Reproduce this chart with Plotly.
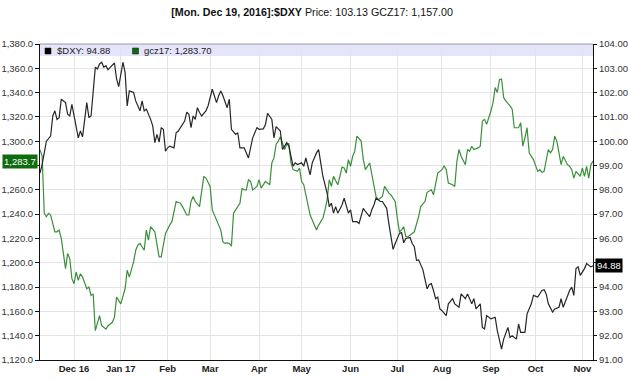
import pandas as pd
import plotly.graph_objects as go

# ---------------- data ----------------
START_DATE = "2016-11-09"      # first trading weekday shown
N_WEEKDAYS = 261               # weekdays shown (through 2017-11-08)

# $DXY (right axis) : weekday offset from START_DATE, value
DXY_DAYS = [0, 1, 3, 5, 6, 7, 8, 9, 10, 12, 13, 14, 15, 16, 17, 18, 19, 20, 22, 23, 24, 26, 27, 28, 29, 30,
            31, 32, 33, 35, 36, 37, 39, 40, 41, 42, 44, 45, 47, 48, 49, 50, 52, 53, 54, 55, 56, 57, 58, 59,
            60, 61, 63, 64, 65, 67, 68, 69, 70, 71, 72, 73, 74, 75, 76, 78, 79, 81, 83, 84, 85, 86, 88, 89,
            90, 92, 93, 94, 96, 98, 99, 100, 102, 103, 105, 106, 107, 109, 110, 111, 113, 114, 116, 117,
            119, 120, 121, 123, 124, 125, 127, 128, 130, 131, 132, 133, 135, 136, 137, 138, 139, 140, 142,
            143, 145, 146, 147, 149, 150, 152, 153, 155, 156, 157, 158, 160, 161, 163, 164, 165, 166, 167,
            169, 170, 171, 172, 174, 175, 176, 177, 178, 180, 181, 182, 183, 184, 185, 186, 187, 188, 189,
            191, 192, 194, 195, 197, 198, 200, 201, 202, 203, 204, 205, 207, 208, 209, 210, 212, 214, 215,
            216, 217, 218, 220, 221, 222, 224, 225, 226, 228, 229, 231, 232, 234, 236, 237, 238, 239, 241,
            242, 244, 245, 246, 248, 249, 250, 251, 252, 253, 254, 255, 256, 257, 259, 260]
DXY_VALUES = [98.69, 99.04, 100.0, 100.21, 101.04, 101.25, 100.9, 100.97, 101.73, 101.59, 101.11, 101.04,
              101.52, 101.04, 100.49, 100.14, 100.42, 100.18, 101.59, 100.97, 101.04, 103.04, 102.97, 103.18,
              103.25, 103.04, 103.11, 102.94, 103.04, 103.22, 102.56, 102.25, 103.25, 102.83, 101.45, 102.07,
              102.01, 101.66, 101.25, 101.66, 101.25, 101.32, 100.9, 100.63, 99.94, 100.28, 99.96, 100.56,
              100.49, 99.59, 99.73, 99.80, 99.73, 100.35, 100.42, 100.69, 100.83, 101.2, 101.11, 100.56,
              101.04, 100.9, 101.38, 101.18, 101.04, 101.25, 101.45, 102.14, 101.59, 101.87, 102.07, 101.87,
              101.38, 101.73, 100.49, 100.28, 100.35, 99.73, 99.73, 99.31, 99.8, 100.14, 100.56, 100.49,
              100.51, 100.69, 101.15, 100.9, 100.14, 100.6, 100.42, 99.66, 99.94, 99.8, 98.97, 99.11, 99.04,
              99.11, 98.97, 99.31, 98.62, 99.11, 99.52, 99.66, 99.11, 98.56, 97.87, 97.31, 97.45, 97.04,
              97.31, 97.04, 97.38, 97.66, 97.04, 97.18, 96.69, 96.69, 96.62, 97.24, 97.11, 96.9, 97.18,
              97.38, 97.66, 97.52, 97.52, 97.24, 96.62, 96.07, 95.55, 95.79, 96.21, 96.24, 95.82, 96.0,
              96.04, 95.79, 95.66, 95.1, 95.12, 94.72, 94.3, 93.93, 94.1, 94.14, 93.86, 93.52, 93.59, 93.10,
              93.03, 92.83, 93.31, 93.52, 93.31, 93.17, 93.72, 93.52, 93.72, 93.52, 93.31, 93.52, 93.10,
              93.31, 92.34, 92.28, 92.83, 92.69, 92.76, 92.21, 91.86, 91.45, 91.86, 92.34, 91.93, 92.0,
              91.86, 92.48, 92.14, 92.14, 92.90, 93.31, 93.66, 93.59, 93.86, 93.89, 93.72, 93.31, 92.97,
              93.10, 93.17, 93.52, 93.17, 93.66, 93.86, 94.0, 93.66, 94.76, 94.83, 94.48, 94.62, 94.76,
              94.97, 94.83, 94.88]

# gcz17 (left axis)
GC_DAYS = [0, 1, 2, 3, 4, 5, 6, 7, 8, 9, 10, 11, 12, 13, 14, 15, 16, 17, 18, 19, 20, 22, 23, 24, 25, 26, 27,
           28, 29, 31, 32, 34, 35, 36, 38, 40, 41, 42, 44, 45, 46, 47, 49, 50, 51, 52, 54, 55, 56, 57, 58,
           59, 61, 62, 64, 66, 67, 69, 70, 71, 72, 73, 75, 76, 77, 78, 80, 81, 83, 85, 86, 87, 88, 89, 90,
           91, 92, 94, 95, 96, 97, 98, 99, 100, 102, 103, 104, 105, 106, 108, 109, 110, 111, 112, 113, 115,
           116, 117, 118, 119, 121, 122, 123, 124, 126, 127, 128, 130, 131, 133, 134, 135, 136, 137, 138,
           140, 141, 142, 143, 144, 145, 146, 147, 148, 149, 151, 152, 153, 155, 156, 157, 158, 159, 161,
           162, 164, 165, 167, 168, 169, 170, 171, 172, 173, 175, 176, 178, 179, 181, 182, 184, 185, 187,
           189, 190, 191, 192, 194, 195, 196, 197, 198, 200, 201, 202, 203, 204, 206, 207, 208, 209, 210,
           212, 213, 214, 215, 216, 217, 218, 219, 221, 222, 223, 225, 226, 227, 228, 229, 230, 231, 232,
           234, 235, 236, 237, 239, 240, 241, 242, 243, 244, 245, 246, 248, 249, 250, 251, 252, 254, 255,
           256, 257, 258, 259, 260]
GC_VALUES = [1293.0, 1288.0, 1240.7, 1237.9, 1240.7, 1239.3, 1232.4, 1225.5, 1225.5, 1226.9, 1220.0, 1207.6,
             1195.2, 1207.6, 1203.4, 1186.9, 1182.7, 1192.4, 1185.5, 1191.0, 1188.2, 1178.6, 1180.0, 1173.1,
             1174.4, 1144.1, 1149.6, 1156.5, 1148.2, 1145.5, 1148.2, 1151.0, 1155.1, 1171.7, 1166.2, 1178.6,
             1193.8, 1188.2, 1200.7, 1210.3, 1214.5, 1215.9, 1210.3, 1226.9, 1218.6, 1229.7, 1225.5, 1213.1,
             1204.8, 1204.8, 1215.9, 1224.1, 1231.0, 1233.8, 1250.4, 1249.0, 1246.2, 1239.3, 1239.3, 1250.4,
             1254.5, 1250.4, 1246.2, 1260.0, 1271.1, 1269.7, 1262.8, 1243.5, 1235.2, 1226.9, 1217.2, 1215.9,
             1216.4, 1215.9, 1213.7, 1240.7, 1243.5, 1249.0, 1261.4, 1260.0, 1260.0, 1268.3, 1266.9, 1260.0,
             1262.8, 1268.3, 1261.4, 1264.2, 1266.9, 1264.2, 1282.1, 1286.3, 1297.3, 1300.1, 1303.7, 1293.2,
             1297.3, 1298.1, 1282.1, 1276.6, 1275.2, 1278.0, 1266.9, 1264.2, 1249.0, 1239.3, 1235.2, 1226.9,
             1231.0, 1236.6, 1243.5, 1251.8, 1268.3, 1262.8, 1271.1, 1264.2, 1271.1, 1278.8, 1278.0, 1273.8,
             1284.9, 1279.4, 1287.6, 1291.8, 1304.2, 1300.1, 1284.9, 1276.6, 1282.1, 1273.8, 1262.8, 1254.5,
             1251.8, 1254.5, 1262.8, 1257.3, 1255.9, 1250.4, 1236.6, 1225.5, 1226.9, 1229.7, 1221.4, 1221.4,
             1224.1, 1225.5, 1238.0, 1246.2, 1250.4, 1258.0, 1260.0, 1255.9, 1273.8, 1276.6, 1279.9, 1276.6,
             1265.6, 1264.2, 1262.8, 1283.5, 1293.2, 1287.6, 1280.7, 1293.2, 1291.8, 1295.9, 1293.2, 1294.5,
             1295.9, 1316.6, 1318.0, 1313.9, 1324.9, 1331.8, 1344.2, 1340.1, 1350.6, 1351.2, 1336.0, 1333.2,
             1329.1, 1326.3, 1311.1, 1311.1, 1315.3, 1295.9, 1302.8, 1311.1, 1290.4, 1287.6, 1284.9, 1275.2,
             1276.6, 1274.4, 1275.2, 1293.2, 1290.4, 1293.2, 1304.2, 1300.1, 1290.4, 1280.7, 1287.6, 1280.7,
             1279.4, 1276.6, 1269.7, 1275.2, 1271.1, 1278.0, 1271.1, 1279.4, 1269.7, 1280.7, 1283.7]

MONTH_TICKS = ["2016-12-01", "2017-01-02", "2017-02-01", "2017-03-01", "2017-04-03", "2017-05-01",
               "2017-06-01", "2017-07-03", "2017-08-01", "2017-09-01", "2017-10-02", "2017-11-01"]
MONTH_LABELS = ["Dec 16", "Jan 17", "Feb", "Mar", "Apr", "May", "Jun", "Jul", "Aug", "Sep", "Oct", "Nov"]

LEFT_TICKS = list(range(1120, 1381, 20))
RIGHT_TICKS = list(range(91, 105))

TITLE_BOLD = "[Mon. Dec 19, 2016]:$DXY"
TITLE_REST = " Price: 103.13 GCZ17: 1,157.00"
DXY_NAME = "$DXY"
GC_NAME = "gcz17"

# ---------------- figure ----------------
FONT = "Liberation Sans, Arial, sans-serif"
BLACK_LINE = "#262626"
GREEN_LINE = "#3a8f3a"
GREEN_DARK = "#0f6b0f"

dates = pd.bdate_range(START_DATE, periods=N_WEEKDAYS)
dxy_x = dates[DXY_DAYS]
gc_x = dates[GC_DAYS]

fig = go.Figure()
fig.add_trace(go.Scatter(x=gc_x, y=GC_VALUES, mode="lines", yaxis="y",
                         line=dict(color=GREEN_LINE, width=1.2), hoverinfo="skip", showlegend=False))
fig.add_trace(go.Scatter(x=dxy_x, y=DXY_VALUES, mode="lines", yaxis="y2",
                         line=dict(color=BLACK_LINE, width=1.2), hoverinfo="skip", showlegend=False))

gc_last = GC_VALUES[-1]
dxy_last = DXY_VALUES[-1]
gc_hide = min(LEFT_TICKS, key=lambda v: abs(v - gc_last))
dxy_hide = min(RIGHT_TICKS, key=lambda v: abs(v - dxy_last))
left_text = ["" if v == gc_hide else f"{v:,.1f}" for v in LEFT_TICKS]
right_text = ["" if v == dxy_hide else f"{v:.2f}" for v in RIGHT_TICKS]

tickfont = dict(family=FONT, size=9.5, color="#333333")

fig.update_layout(
    width=628, height=380,
    margin=dict(l=40, r=35, t=44, b=20, autoexpand=False),
    paper_bgcolor="white", plot_bgcolor="white",
    font=dict(family=FONT, color="#222222"),
    title=dict(text=f"<b>{TITLE_BOLD}</b>{TITLE_REST}", x=0.497, xanchor="center", xref="container",
               y=1 - 12 / 380, yanchor="middle", yref="container",
               font=dict(family=FONT, size=10.7, color="#111111")),
    xaxis=dict(type="date", range=[dates[0], dates[-1]], automargin=False,
               rangebreaks=[dict(bounds=["sat", "mon"])],
               tickvals=MONTH_TICKS, ticktext=MONTH_LABELS,
               tickfont=dict(family=FONT, size=9.5, color="#222222", weight="bold"),
               showgrid=True, gridcolor="#e4e4e4", gridwidth=1,
               showline=True, linecolor="#111111", linewidth=1, ticks="", zeroline=False),
    yaxis=dict(range=[1120, 1380], tickvals=LEFT_TICKS, ticktext=left_text, tickfont=tickfont,
               automargin=False,
               showgrid=True, gridcolor="#e4e4e4", gridwidth=1, zeroline=False,
               showline=True, linecolor="#111111", linewidth=1,
               ticks="outside", ticklen=4, tickcolor="#111111"),
    yaxis2=dict(range=[91, 104], tickvals=RIGHT_TICKS, ticktext=right_text, tickfont=tickfont,
                automargin=False,
                overlaying="y", side="right", showgrid=False, zeroline=False,
                showline=True, linecolor="#111111", linewidth=1,
                ticks="outside", ticklen=3, tickcolor="#111111"),
)

# legend band at the top of the plot area
band_h = 12 / 316
fig.add_shape(type="rect", xref="paper", yref="paper", x0=0, x1=1, y0=1 - band_h, y1=1,
              fillcolor="#e4e4fb", line=dict(width=0), layer="below")
fig.add_shape(type="line", xref="paper", yref="paper", x0=0, x1=1, y0=1, y1=1,
              line=dict(color="#9a9a9a", width=1))

legend_items = [(DXY_NAME, dxy_last, "#000000", "{:.2f}", 5, 15),
                (GC_NAME, gc_last, GREEN_DARK, "{:,.2f}", 92.5, 101.5)]
for name, val, col, fmt, sq_x, tx_x in legend_items:
    fig.add_shape(type="rect", xref="paper", yref="paper", xsizemode="pixel", ysizemode="pixel",
                  xanchor=0, yanchor=1, x0=sq_x, x1=sq_x + 6, y0=-4, y1=-10,
                  fillcolor=col, line=dict(color="#222222", width=0.6))
    fig.add_annotation(xref="paper", yref="paper", x=0, y=1, xanchor="left", yanchor="middle",
                       xshift=tx_x, yshift=-6.5, showarrow=False,
                       text=f"{name}: {fmt.format(val)}",
                       font=dict(family=FONT, size=9.5, color="#222222"))

# last-value flags on the axes
fig.add_annotation(xref="paper", x=0, xanchor="right", xshift=-2, yref="y", y=gc_last, yanchor="middle",
                   text=f"{gc_last:,.1f}", showarrow=False, bgcolor=GREEN_DARK, borderpad=1,
                   font=dict(family=FONT, size=9.5, color="white"))
fig.add_annotation(xref="paper", x=1, xanchor="left", xshift=2, yref="y2", y=dxy_last, yanchor="middle",
                   text=f"{dxy_last:.2f}", showarrow=False, bgcolor="#000000", borderpad=1,
                   font=dict(family=FONT, size=9.5, color="white"))

# the page's default 8px body margin would shift the chart; remove it
fig.write_html("out.html", config={"displayModeBar": False},
               post_script="document.body.style.margin='0px';")
